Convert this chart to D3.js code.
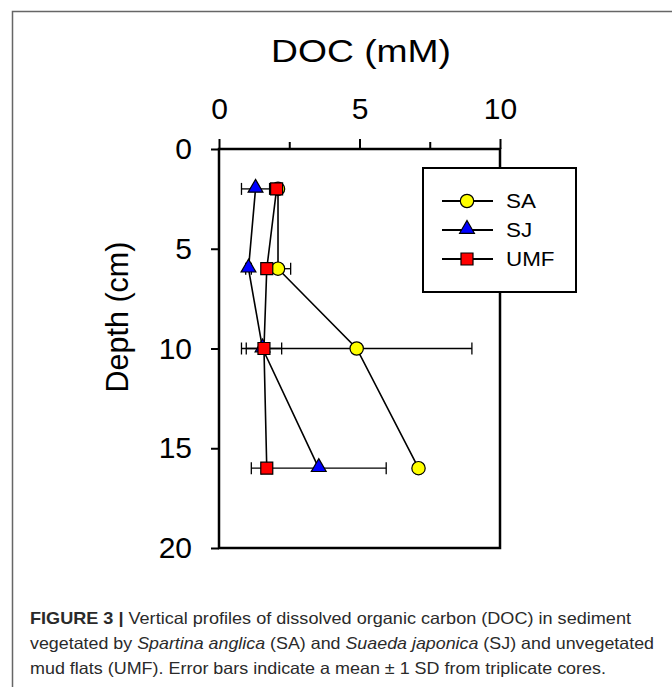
<!DOCTYPE html>
<html>
<head>
<meta charset="utf-8">
<script src="https://cdn.jsdelivr.net/npm/d3@7"></script>
<style>
  body { margin: 0; background: #fff; }
  text { font-family: "Liberation Sans", Arial, sans-serif; }
</style>
</head>
<body>
<svg id="chart" width="672" height="687"></svg>
<script>
// depth of each sampled layer (cm)
const depths = [2, 6, 10, 16];

// DOC (mM) means and SDs
const saMean = [2.1, 2.1, 4.9, 7.1];
const saSD = [0.1, 0.45, 4.1, 0.1];
const sjMean = [1.3, 1.05, 1.55, 3.55];
const sjSD = [0.5, 0.1, 0.1, 2.4];
const umfMean = [2.05, 1.7, 1.6, 1.7];
const umfSD = [0.1, 0.1, 0.63, 0.18];

const seriesNames = ["SA", "SJ", "UMF"];
const xMajorTicks = [0, 5, 10];
const xMinorTicks = [2.5, 7.5];
const yTicks = [0, 5, 10, 15, 20];

const captionLines = [
    [{ t: "FIGURE 3 | ", b: true }, { t: "Vertical profiles of dissolved organic carbon (DOC) in sediment" }],
    [{ t: "vegetated by " }, { t: "Spartina anglica", i: true }, { t: " (SA) and " }, { t: "Suaeda japonica", i: true }, { t: " (SJ) and unvegetated" }],
    [{ t: "mud flats (UMF). Error bars indicate a mean \u00b1 1 SD from triplicate cores." }]
];
const captionWidths = [601, 624, 576];

const series = [
    { name: "SA", mean: saMean, sd: saSD, fill: "#ffff00", shape: "circle" },
    { name: "SJ", mean: sjMean, sd: sjSD, fill: "#0000ff", shape: "triangle" },
    { name: "UMF", mean: umfMean, sd: umfSD, fill: "#ff0000", shape: "square" }
];

const svg = d3.select("#chart");

// figure frame (runs off right/bottom like the page crop)
svg.append("rect")
    .attr("x", 12.5).attr("y", 11.5)
    .attr("width", 700).attr("height", 700)
    .attr("fill", "none")
    .attr("stroke", "#666")
    .attr("stroke-width", 1.5);

const x = d3.scaleLinear().domain([0, 10]).range([219, 500]);
const y = d3.scaleLinear().domain([0, 20]).range([149, 548]);

// plot frame
svg.append("rect")
    .attr("x", x(0)).attr("y", y(0))
    .attr("width", x(10) - x(0)).attr("height", y(20) - y(0))
    .attr("fill", "none")
    .attr("stroke", "#000")
    .attr("stroke-width", 2.5);

svg.append("g")
    .attr("transform", `translate(0,${y(0)})`)
    .call(d3.axisTop(x).tickValues(xMajorTicks).tickSize(10).tickPadding(20).tickFormat(d3.format("d")));
svg.append("g")
    .attr("transform", `translate(0,${y(0)})`)
    .call(d3.axisTop(x).tickValues(xMinorTicks).tickSize(7).tickFormat(""));

svg.append("g")
    .attr("transform", `translate(${x(0)},0)`)
    .call(d3.axisLeft(y).tickValues(yTicks).tickSize(8).tickPadding(19).tickFormat(d3.format("d")));

svg.selectAll(".domain").remove();
svg.selectAll(".tick line").attr("stroke", "#000").attr("stroke-width", 2);
svg.selectAll(".tick text")
    .attr("font-family", "Liberation Sans, Arial, sans-serif")
    .attr("font-size", 30)
    .attr("fill", "#000");

// axis titles
svg.append("text")
    .attr("x", 361).attr("y", 62)
    .attr("text-anchor", "middle")
    .attr("font-size", 31)
    .attr("textLength", 180)
    .attr("lengthAdjust", "spacingAndGlyphs")
    .text("DOC (mM)");

svg.append("text")
    .attr("transform", "translate(128,317) rotate(-90)")
    .attr("text-anchor", "middle")
    .attr("font-size", 30.5)
    .text("Depth (cm)");

const symbolType = { circle: d3.symbolCircle, triangle: d3.symbolTriangle, square: d3.symbolSquare };
const symbolSize = { circle: 140, triangle: 95, square: 144 };

const line = d3.line()
    .x(d => x(d.m))
    .y(d => y(d.z));

const layer = svg.append("g");

series.forEach(s => {
    const pts = depths.map((z, i) => ({ z, m: s.mean[i], sd: s.sd[i] }));

    layer.append("path")
        .datum(pts)
        .attr("d", line)
        .attr("fill", "none")
        .attr("stroke", "#000")
        .attr("stroke-width", 1.6);

    const eb = layer.append("g").selectAll("g").data(pts).join("g");
    eb.append("line")
        .attr("x1", d => x(d.m - d.sd)).attr("x2", d => x(d.m + d.sd))
        .attr("y1", d => y(d.z)).attr("y2", d => y(d.z))
        .attr("stroke", "#000").attr("stroke-width", 1.3);
    eb.append("line")
        .attr("x1", d => x(d.m - d.sd)).attr("x2", d => x(d.m - d.sd))
        .attr("y1", d => y(d.z) - 6).attr("y2", d => y(d.z) + 6)
        .attr("stroke", "#000").attr("stroke-width", 1.3);
    eb.append("line")
        .attr("x1", d => x(d.m + d.sd)).attr("x2", d => x(d.m + d.sd))
        .attr("y1", d => y(d.z) - 6).attr("y2", d => y(d.z) + 6)
        .attr("stroke", "#000").attr("stroke-width", 1.3);
});

series.forEach(s => {
    const pts = depths.map((z, i) => ({ z, m: s.mean[i] }));
    layer.append("g").selectAll("path").data(pts).join("path")
        .attr("d", d3.symbol().type(symbolType[s.shape]).size(symbolSize[s.shape]))
        .attr("transform", d => `translate(${x(d.m)},${y(d.z) + (s.shape === "triangle" ? -1 : 0)})`)
        .attr("fill", s.fill)
        .attr("stroke", "#000")
        .attr("stroke-width", 1.2);
});

// legend
const legend = svg.append("g");
legend.append("rect")
    .attr("x", 423).attr("y", 168)
    .attr("width", 153).attr("height", 124)
    .attr("fill", "#fff")
    .attr("stroke", "#000")
    .attr("stroke-width", 2);

const legendY = d3.scalePoint().domain(seriesNames).range([201, 259]);
const item = legend.selectAll("g.item").data(series).join("g")
    .attr("class", "item")
    .attr("transform", d => `translate(0,${legendY(d.name)})`);
item.append("line")
    .attr("x1", 442).attr("x2", 493)
    .attr("stroke", "#000").attr("stroke-width", 2);
item.append("path")
    .attr("d", d => d3.symbol().type(symbolType[d.shape]).size(symbolSize[d.shape])())
    .attr("transform", d => `translate(467,${d.shape === "triangle" ? -1 : 0})`)
    .attr("fill", d => d.fill)
    .attr("stroke", "#000")
    .attr("stroke-width", 1.2);
item.append("text")
    .attr("x", 506)
    .attr("dy", "0.36em")
    .attr("font-size", 20)
    .text(d => d.name)
    .each(function () {
        const w = this.getComputedTextLength();
        d3.select(this).attr("textLength", w * 1.12).attr("lengthAdjust", "spacingAndGlyphs");
    });

// caption
const cap = svg.append("g");
captionLines.forEach((parts, li) => {
    const t = cap.append("text")
        .attr("x", 30)
        .attr("y", 624 + li * 25)
        .attr("font-size", 16.5)
        .attr("fill", "#2a2a2a")
        .attr("textLength", captionWidths[li])
        .attr("lengthAdjust", "spacingAndGlyphs");
    parts.forEach(p => {
        t.append("tspan")
            .attr("font-weight", p.b ? "bold" : null)
            .attr("font-style", p.i ? "italic" : null)
            .text(p.t);
    });
});
</script>
</body>
</html>
